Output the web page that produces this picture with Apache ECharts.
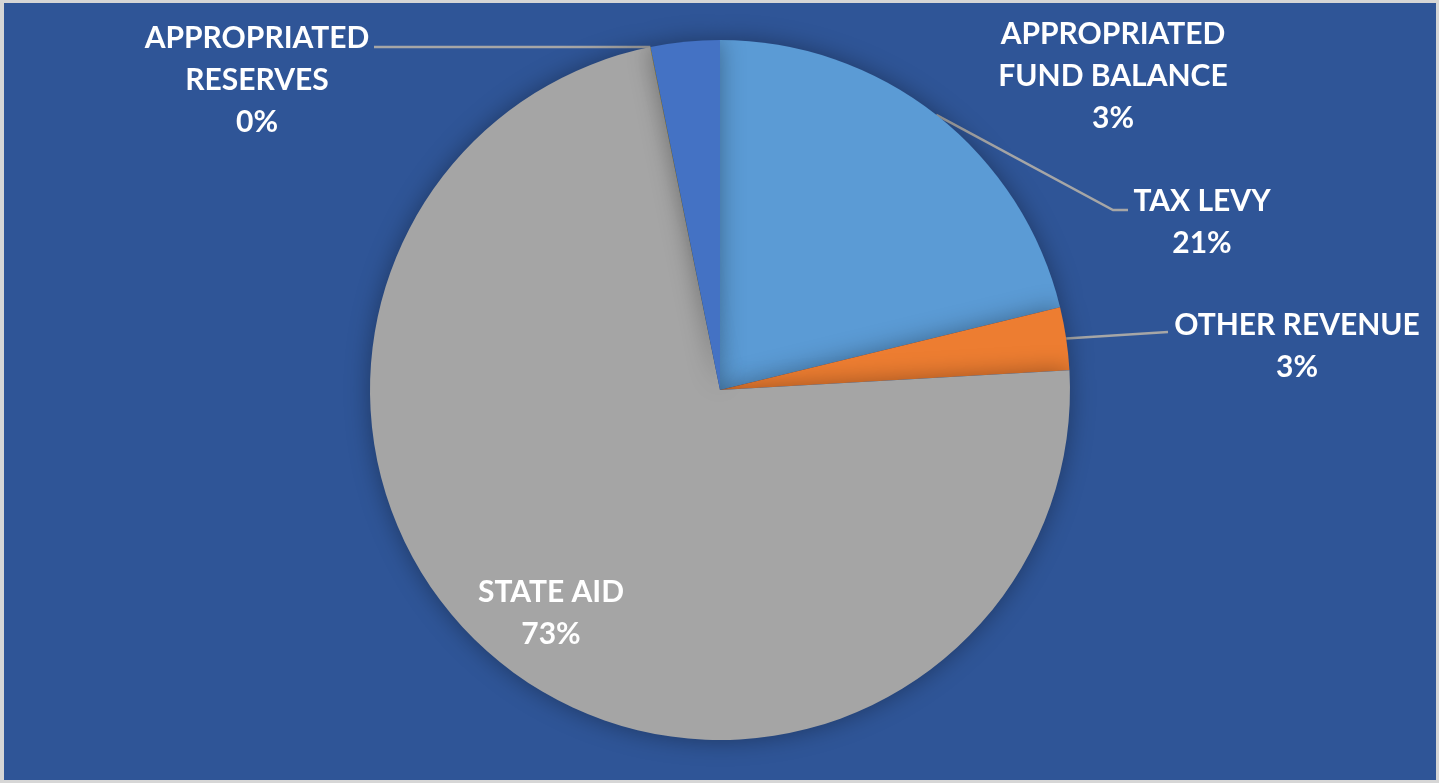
<!DOCTYPE html>
<html>
<head>
<meta charset="utf-8">
<script src="https://cdn.jsdelivr.net/npm/echarts@6/dist/echarts.min.js"></script>
<style>
  html, body { margin: 0; padding: 0; background: #d6d6d6; }
  #pie1 { position: absolute; left: 4px; top: 3px; width: 1432px; height: 777px; background: #2f5597; }
</style>
</head>
<body>
<div id="pie1"></div>
<script>
  // 收入构成
  var names = ['TAX LEVY', 'OTHER REVENUE', 'STATE AID', 'APPROPRIATED\nRESERVES', 'APPROPRIATED\nFUND BALANCE']
  var values = [21.2, 2.9, 72.7, 0.02, 3.18]
  var colors = ['#5b9bd5', '#ed7d31', '#a5a5a5', '#ffc000', '#4472c4']

  // label centres and leader-line elbows (px, chart coords)
  var labelPos = [
    { x: 1198, y: 219, elbow: [1109, 207], end: [1124, 207] },
    { x: 1293, y: 343, elbow: [1164, 329], end: [1164, 329] },
    { x: 547, y: 610 },
    { x: 253, y: 77, elbow: [370, 44], end: [370, 44] },
    { x: 1109, y: 73 }
  ]

  var chart = echarts.init(document.getElementById('pie1'))
  var option = {
    animation: false,
    series: [{
      type: 'pie',
      center: [716, 387],
      radius: 350,
      startAngle: 90,
      clockwise: true,
      itemStyle: {
        borderWidth: 0,
        shadowBlur: 24,
        shadowColor: 'rgba(0, 0, 0, 0.35)'
      },
      label: {
        show: true,
        position: 'outside',
        color: '#fff',
        fontFamily: 'Lato',
        fontWeight: 'bold',
        fontSize: 30,
        lineHeight: 42,
        align: 'center',
        formatter: function (p) {
          return p.name + '\n' + Math.round(p.percent) + '%'
        }
      },
      labelLine: {
        show: true,
        lineStyle: { color: '#a6a6a6', width: 2.5 }
      },
      labelLayout: function (params) {
        var pos = labelPos[params.dataIndex]
        var out = { x: pos.x, y: pos.y, align: 'center', verticalAlign: 'middle' }
        if (pos.elbow && params.labelLinePoints) {
          out.labelLinePoints = [params.labelLinePoints[0], pos.elbow, pos.end]
        }
        return out
      },
      data: names.map(function (n, i) {
        var item = { name: n, value: values[i], itemStyle: { color: colors[i] } }
        if (!labelPos[i].elbow) item.labelLine = { show: false }
        return item
      })
    }]
  }
  chart.setOption(option)
</script>
</body>
</html>
